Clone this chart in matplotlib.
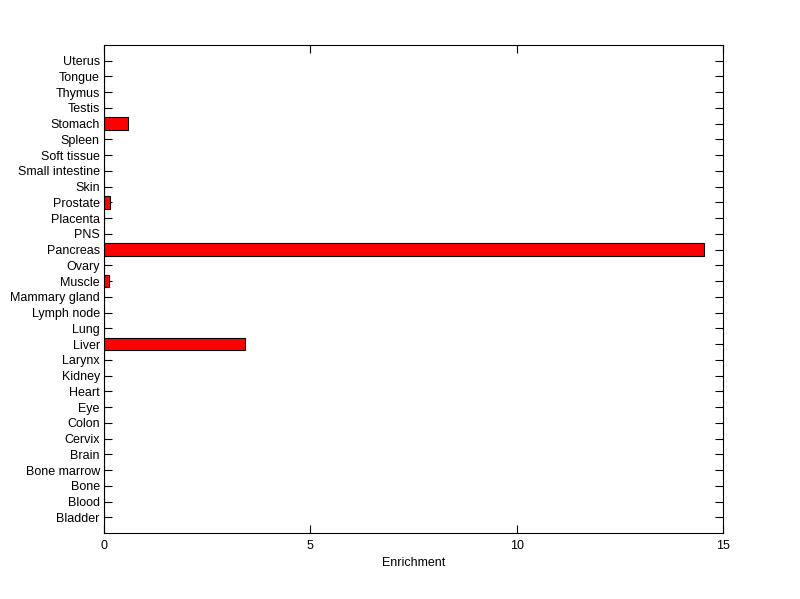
import matplotlib
matplotlib.use("Agg")
import matplotlib.pyplot as plt
import numpy as np

tissues = ["Bladder", "Blood", "Bone", "Bone marrow", "Brain", "Cervix", "Colon",
           "Eye", "Heart", "Kidney", "Larynx", "Liver", "Lung", "Lymph node",
           "Mammary gland", "Muscle", "Ovary", "Pancreas", "PNS", "Placenta",
           "Prostate", "Skin", "Small intestine", "Soft tissue", "Spleen",
           "Stomach", "Testis", "Thymus", "Tongue", "Uterus"]
enrichment = [0, 0, 0, 0, 0, 0, 0,
              0, 0, 0, 0, 3.42, 0, 0,
              0, 0.11, 0, 14.55, 0, 0,
              0.15, 0, 0, 0, 0,
              0.57, 0, 0, 0, 0]
x_ticks = [0, 5, 10, 15]

plt.rcParams['font.family'] = ['Liberation Sans', 'DejaVu Sans']

fig = plt.figure(figsize=(8, 5.99), dpi=100)
ax = fig.add_axes([0.13, 0.1102, 0.7738, 0.8147])
ax.set_axisbelow(True)

pos = np.arange(1, len(tissues) + 1)
ax.barh(pos, enrichment, height=0.8, color='#ff0000', edgecolor='black', linewidth=0.8)

ax.set_xlim(0, 15)
ax.set_ylim(0, len(tissues) + 1)
ax.set_xticks(x_ticks)
ax.set_yticks(pos)
ax.set_yticklabels(tissues)
ax.set_xlabel("Enrichment", fontsize=9)
ax.tick_params(direction='in', length=6, width=0.8, labelsize=9,
               top=True, right=True)
ax.tick_params(axis='y', pad=3)
ax.tick_params(axis='x', pad=5)
for s in ax.spines.values():
    s.set_linewidth(0.8)
    s.set_zorder(3)

fig.savefig("out.png", dpi=100)
